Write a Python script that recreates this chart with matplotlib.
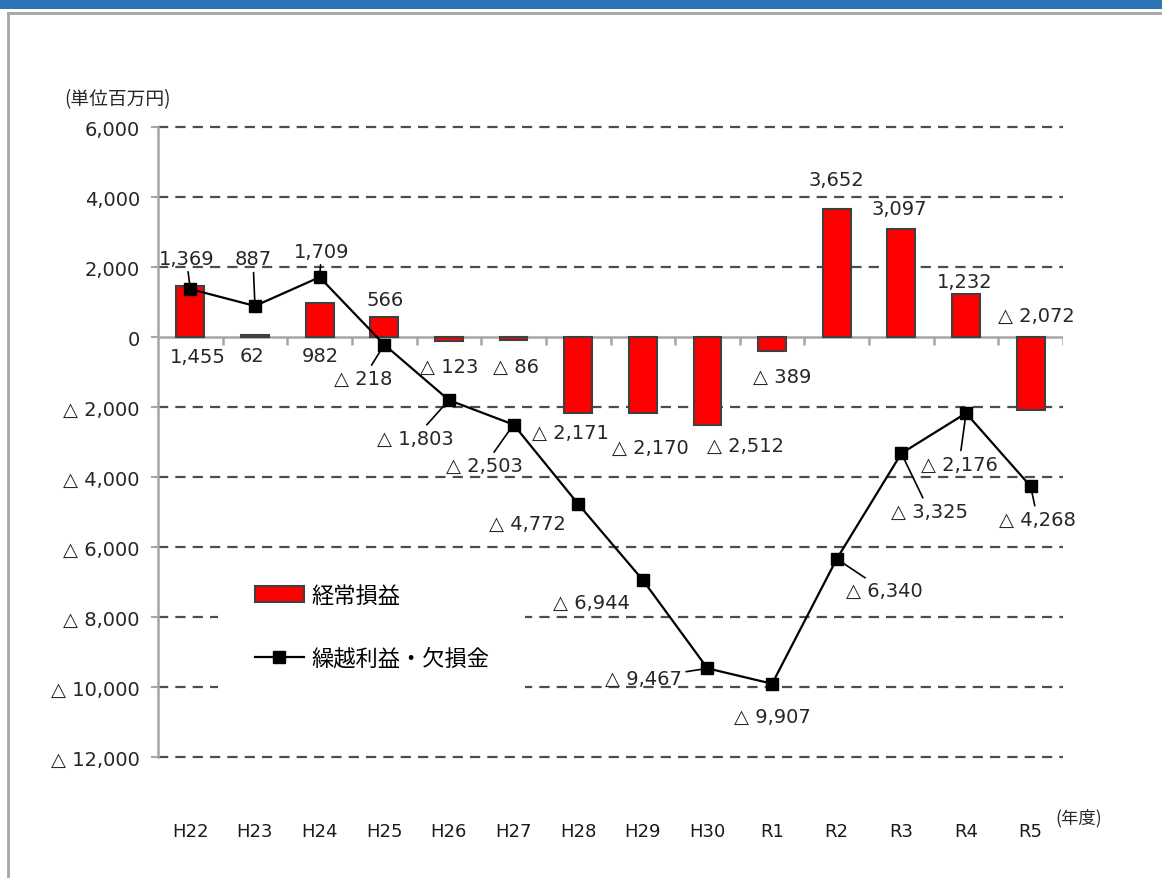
import numpy as np
import matplotlib
matplotlib.use('Agg')
import matplotlib.pyplot as plt
from matplotlib.patches import Rectangle, Patch
from matplotlib.lines import Line2D

plt.rcParams['font.family'] = ['DejaVu Sans', 'Noto Sans CJK JP']

# data
years = ['H22', 'H23', 'H24', 'H25', 'H26', 'H27', 'H28', 'H29', 'H30',
         'R1', 'R2', 'R3', 'R4', 'R5']
keijo = [1455, 62, 982, 566, -123, -86, -2171, -2170, -2512,
         -389, 3652, 3097, 1232, -2072]
kurikoshi = [1369, 887, 1709, -218, -1803, -2503, -4772, -6944, -9467,
             -9907, -6340, -3325, -2176, -4268]
yticks = [6000, 4000, 2000, 0, -2000, -4000, -6000, -8000, -10000, -12000]
ytick_labels = ['6,000', '4,000', '2,000', '0', '△ 2,000', '△ 4,000', '△ 6,000',
                '△ 8,000', '△ 10,000', '△ 12,000']
bar_name = '経常損益'
line_name = '繰越利益・欠損金'

# label offsets in pixels (text centre relative to bar end / marker)
bar_off = [(7, -70), (-3, -21), (1, -53), (1, 18), (0, -25), (2, -26), (-8, -19),
           (8, -34), (38, -21), (10, -26), (0, 30), (-2, 20), (-1, 12), (6, 94)]
line_off = [(-4, 31), (-2, 47), (2, 26), (-21, -34), (-34, -38), (-29, -41), (-51, -19),
            (-51, -22), (-64, -10), (0, -33), (48, -32), (28, -58), (-7, -51), (7, -33)]
leader = [True, True, True, True, True, True, False, False, True,
          False, True, True, True, True]


def fmt(v):
    return f'{v:,}' if v >= 0 else f'△ {-v:,}'


W, H = 1162, 879
fig = plt.figure(figsize=(W / 100, H / 100), dpi=100)

# page decorations: blue band and grey frame
fig.add_artist(Rectangle((0, 1 - 10 / H), 1, 10 / H, transform=fig.transFigure,
                         fc='#2E75B6', ec='none'))
fig.add_artist(Line2D([8 / W, 1], [1 - 14 / H, 1 - 14 / H], transform=fig.transFigure,
                      color='#A6A6A6', lw=2))
fig.add_artist(Line2D([8 / W, 8 / W], [0, 1 - 14 / H], transform=fig.transFigure,
                      color='#A6A6A6', lw=2))

left, right, top, bottom = 158, 1063, 128, 758
ax = fig.add_axes([left / W, 1 - bottom / H, (right - left) / W, (bottom - top) / H])

x = np.arange(len(years))
ax.set_xlim(-0.5, len(years) - 0.5)
ax.set_ylim(-12000, 6000)

# dashed grid (skip zero, drawn as solid axis)
for t in yticks:
    if t != 0:
        ax.axhline(t, color='#4D4D4D', lw=1.6, ls=(0, (4.6, 3.2)), zorder=0.5, clip_on=False)
ax.axhline(0, color='#A6A6A6', lw=1.8, zorder=1)
ax.vlines(np.arange(0.5, len(years), 1), -230, 0, color='#A6A6A6', lw=1.8, zorder=1)

# white area behind the legend hides the grid there
ax.add_patch(Rectangle((218 / W, 1 - 740 / H), 307 / W, 180 / H, transform=fig.transFigure,
                       fc='white', ec='none', zorder=0.8))

ax.bar(x, keijo, width=0.43, color='#FF0000', edgecolor='#404040', lw=1.5, zorder=2)
ax.plot(x, kurikoshi, color='black', lw=1.6, marker='s', markersize=8, zorder=4)

for i, v in enumerate(keijo):
    ax.annotate(fmt(v), (x[i], v), xytext=bar_off[i], textcoords='offset pixels',
                ha='center', va='center', fontsize=14, color='#262626', zorder=5)

for i, v in enumerate(kurikoshi):
    props = dict(arrowstyle='-', color='black', lw=1.2, shrinkA=1, shrinkB=2) if leader[i] else None
    ax.annotate(fmt(v), (x[i], v), xytext=line_off[i], textcoords='offset pixels',
                ha='center', va='center', fontsize=14, color='#262626',
                arrowprops=props, zorder=5)

for s in ['top', 'right', 'bottom']:
    ax.spines[s].set_visible(False)
ax.spines['left'].set_color('#A6A6A6')
ax.spines['left'].set_linewidth(1.8)
ax.spines['left'].set_zorder(3)

ax.set_yticks(yticks)
ax.set_yticklabels(ytick_labels, fontsize=14)
ax.tick_params(axis='y', length=5, width=1.5, color='#A6A6A6', pad=8, labelcolor='#262626')

ax.set_xticks(x)
ax.set_xticklabels(years, fontsize=13, family=['Liberation Sans Narrow', 'DejaVu Sans'])
ax.tick_params(axis='x', length=0, pad=47, labelcolor='#1A1A1A')

fig.text(64 / W, 1 - 100 / H, '(単位百万円)', fontsize=13.5, ha='left', va='center',
         family=['Noto Sans CJK JP', 'DejaVu Sans'], color='#262626')
fig.text(1079 / W, 1 - 818 / H, '(年度)', fontsize=12.5, ha='center', va='center',
         family=['Noto Sans CJK JP', 'DejaVu Sans'], color='#262626')

handles = [Patch(facecolor='#FF0000', edgecolor='#404040', lw=1.5),
           Line2D([], [], color='black', lw=1.6, marker='s', markersize=8)]
ax.legend(handles, [bar_name, line_name], loc='upper left',
          bbox_to_anchor=(255 / W, 1 - 585 / H), bbox_transform=fig.transFigure,
          frameon=False, borderpad=0, borderaxespad=0, handlelength=2.2,
          handletextpad=0.35, labelspacing=1.8,
          prop={'family': ['Noto Sans CJK JP', 'DejaVu Sans'], 'size': 16})

fig.savefig('out.png', dpi=100)
